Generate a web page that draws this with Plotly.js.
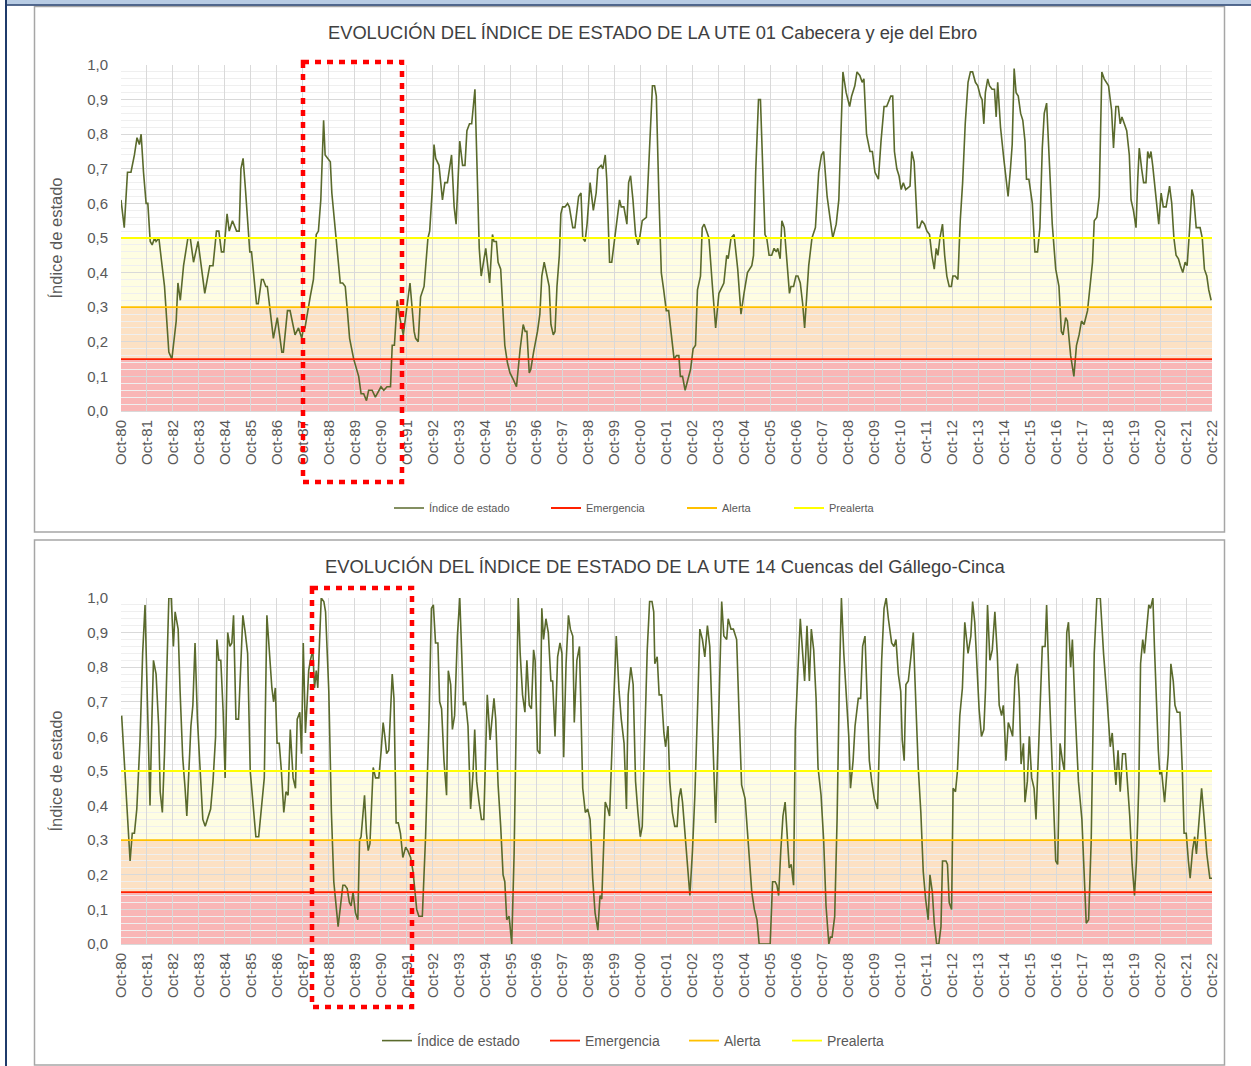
<!DOCTYPE html>
<html>
<head>
<meta charset="utf-8">
<script src="https://cdn.plot.ly/plotly-3.0.1.min.js"></script>
<style>html,body{margin:0;padding:0;background:#fff;}#chart{width:1251px;height:1066px;}</style>
</head>
<body>
<div id="chart"></div>
<script>
// ---------- DATA ----------
// month offset since Oct-1980 and index value
const ute01_month = [0,1.5,3,4.6,6.2,7.4,8.5,9.3,10.4,11.6,12.4,13.5,14.4,15.5,16.2,17.5,18.6,20.1,22.1,23.5,25.5,26.3,27.4,28.9,30.9,32,33.5,35.6,38.7,41,42.5,44.1,45.2,46.4,47.5,49,50,51.5,53.4,54.6,55.4,56.4,57.5,59.5,60.3,62.6,63.4,64.9,65.7,66.9,67.6,70.4,72.2,74.3,75,76.9,78.1,80.4,82,83.5,84.3,85,87.4,88.9,90.2,91.2,92.3,93.6,94.3,95.4,96.7,97.4,99,101.3,102.4,103.6,104.7,105.6,107.5,109.8,110.9,112.1,113.4,114.4,116,117.5,120.1,121.4,122.9,124.5,125.3,126.3,127.6,128.8,130.4,132,133.5,135.4,136.1,137.3,138.4,140,141.8,142.6,143.8,144.6,145.4,146.9,148.5,149.6,150.8,152.7,153.9,154.8,156.5,157.8,158.9,159.8,161,162,163.5,165.5,
166.4,168.5,170.3,171.6,172.3,173.4,174.2,175.4,176.2,177.3,178.5,179.7,181.3,182.7,184.4,185.8,186.7,187.5,188.6,189.3,190.6,192.4,193.5,194.4,195.5,196.8,197.8,198.6,199.7,200.5,201.4,202.5,203.2,204,205.1,206.3,207.1,208.7,209.7,211.4,212.5,213.3,214.4,215.3,216.7,218.2,219.5,220.3,221.8,222.6,223.7,224.4,225.7,226.7,228.4,230.3,231.1,232.3,233.7,234.5,235.4,236.5,237.7,238.8,239.6,240.8,242.7,244.2,245.5,246.5,247.3,248.4,249.6,250.7,251.9,253,254.6,255.5,256.6,257.7,258.4,259.4,260.6,262,263.1,264.3,265.4,266.3,267.7,268.5,269.4,270.5,271.6,273.1,274.7,276.2,277.5,278.5,279.8,280.5,281.8,283.2,284.9,286.4,287.8,289.4,291.4,292.2,293.2,294.5,295.4,297.5,298.3,299.4,300.6,301.7,302.7,303.4,304.5,305.3,306.4,307.6,308.8,309.5,310.7,311.8,312.7,313.8,314.9,315.8,316.6,317.7,319.2,320.8,322.3,323.6,324.6,326.2,327.7,328.8,330.4,331.6,333.5,335,336.6,337.5,
339,340,341.3,342.4,343.2,344.4,346,347.1,348.3,349.9,351.1,352.5,353.7,355.6,356.5,357.3,358.4,359.4,360.4,361.4,362.5,364.5,365.3,366.4,367.9,368.9,370,371.2,372.3,373.5,374.6,375.7,376.6,377.4,378.3,379.5,380.5,381.5,382.6,383.6,384.3,385.4,386.6,387.7,388.8,390,391.3,392.4,393.4,394.7,395.8,397,397.8,398.6,399.3,400.4,401.2,402.4,403.5,404.3,405,406.3,407.8,408.9,409.8,410.9,411.7,412.6,413.5,414.5,415.6,416.6,417.6,418.3,419.4,421,422.2,423.4,424.5,425.6,426.5,427.6,429,430.2,431.8,433.3,434.4,435.2,436.4,437.2,438.7,440.2,441.4,442.6,443.7,444.9,446.5,447.6,448.8,449.6,450.8,451.9,453.1,454.2,456.2,457.6,458.5,459.6,460.7,461.6,462.4,463.5,464.6,465.8,466.6,467.7,468.9,469.7,470.4,471.5,472.4,473.5,474.3,475.1,475.8,476.6,478.1,479.4,480.5,481.5,482.8,484.4,485.4,486.4,487.4,488.5,489.4,490.5,491.6,492.5,493.6,494.7,495.5,496.7,497.8,498.5,499.5,500.5,501.6,502.5,503.6];
const ute01_index = [0.61,0.53,0.69,0.69,0.74,0.79,0.77,0.80,0.69,0.60,0.60,0.49,0.48,0.50,0.49,0.50,0.44,0.36,0.17,0.15,0.26,0.37,0.32,0.42,0.50,0.50,0.43,0.49,0.34,0.42,0.42,0.52,0.52,0.46,0.46,0.57,0.52,0.55,0.52,0.52,0.70,0.73,0.64,0.46,0.46,0.31,0.31,0.38,0.38,0.36,0.36,0.21,0.27,0.17,0.17,0.29,0.29,0.22,0.24,0.21,0.24,0.24,0.33,0.38,0.51,0.52,0.61,0.84,0.74,0.73,0.72,0.63,0.52,0.37,0.37,0.36,0.28,0.21,0.15,0.10,0.05,0.05,0.03,0.06,0.06,0.04,0.07,0.06,0.07,0.07,0.19,0.19,0.32,0.27,0.22,0.30,0.37,0.23,0.21,0.20,0.33,0.36,0.50,0.52,0.64,0.77,0.73,0.71,0.61,0.66,0.66,0.74,0.59,0.54,0.78,0.71,0.71,0.81,0.83,0.83,0.93,0.47,
0.39,0.47,0.37,0.51,0.49,0.49,0.43,0.41,0.30,0.19,0.14,0.11,0.09,0.07,0.18,0.25,0.23,0.23,0.11,0.12,0.17,0.23,0.28,0.39,0.43,0.39,0.36,0.25,0.22,0.23,0.36,0.45,0.57,0.59,0.59,0.60,0.59,0.53,0.53,0.62,0.63,0.50,0.49,0.54,0.66,0.58,0.63,0.70,0.71,0.70,0.74,0.67,0.43,0.43,0.51,0.61,0.59,0.59,0.54,0.66,0.68,0.61,0.51,0.48,0.50,0.55,0.56,0.79,0.94,0.94,0.91,0.64,0.40,0.35,0.29,0.29,0.19,0.15,0.16,0.16,0.10,0.10,0.06,0.09,0.12,0.18,0.19,0.35,0.39,0.53,0.54,0.52,0.50,0.37,0.24,0.34,0.36,0.37,0.45,0.44,0.50,0.51,0.41,0.28,0.34,0.40,0.42,0.45,0.69,0.90,0.90,0.51,0.50,0.45,0.45,0.47,0.46,0.47,0.44,0.55,0.53,0.44,0.34,0.36,0.36,0.39,0.39,0.37,0.31,0.24,0.33,0.42,0.50,0.53,0.69,0.74,0.75,0.62,0.55,0.50,0.54,0.61,0.98,0.92,0.88,0.91,
0.94,0.98,0.97,0.95,0.96,0.80,0.75,0.75,0.69,0.67,0.78,0.88,0.88,0.91,0.91,0.75,0.70,0.68,0.64,0.66,0.64,0.65,0.75,0.72,0.53,0.53,0.55,0.54,0.52,0.51,0.45,0.41,0.47,0.45,0.50,0.54,0.45,0.39,0.36,0.36,0.39,0.39,0.38,0.55,0.66,0.83,0.95,0.98,0.98,0.95,0.94,0.91,0.90,0.83,0.92,0.96,0.94,0.93,0.93,0.85,0.95,0.82,0.73,0.66,0.62,0.70,0.77,0.99,0.92,0.91,0.86,0.84,0.78,0.67,0.67,0.60,0.46,0.46,0.53,0.76,0.86,0.89,0.70,0.54,0.41,0.36,0.23,0.22,0.27,0.26,0.16,0.10,0.19,0.22,0.26,0.25,0.29,0.36,0.43,0.55,0.56,0.62,0.98,0.96,0.94,0.87,0.76,0.88,0.88,0.83,0.85,0.83,0.81,0.74,0.61,0.58,0.53,0.67,0.76,0.70,0.66,0.66,0.75,0.73,0.75,0.71,0.61,0.54,0.63,0.59,0.59,0.65,0.60,0.50,0.45,0.44,0.42,0.40,0.43,0.42,0.52,0.64,0.62,0.53,0.53,0.53,0.50,0.41,0.39,0.35,0.32];

const ute14_month = [0.3,1.9,2.9,4.2,5.2,6.2,7.3,8.8,10,11.1,12.2,13.4,14.2,15,16.2,17.4,18.1,19.1,20.1,21.1,22.1,23.2,24.2,25,26.4,27.3,28.5,29.6,30.4,31.5,32.3,33.2,34.2,35.3,36.6,37.8,38.9,41.4,42.5,43.7,44.3,45.2,46.1,47.2,48.1,49.3,50.3,51.2,52,53.1,54.3,55.4,56.3,57.4,58.5,59.7,61,62.3,63.6,65.1,66.2,67.4,68.7,69.7,70.5,71.3,72.1,73.1,74.1,75.2,76.2,77.2,78.2,79,79.5,80.6,81.4,82.6,83.4,84.2,85.2,86,86.7,87.5,88.6,89.4,90.2,90.9,91.7,92.5,93.7,94.5,96,97.2,98.3,99.4,100.3,101.4,102.5,103.4,104.5,105.5,106.3,107.2,108.3,109.4,110.2,110.9,112.5,113.4,114.2,115,116.5,117.6,119.1,120.2,121.1,121.9,122.7,123.7,125.3,126.1,127.1,128.1,129.1,130.2,131.5,132.5,133.8,134.9,135.8,136.6,137.6,139.2,140.7,142.3,143.4,144.3,145.3,146.4,147.2,148.1,149.2,150.4,151.2,152.3,153.1,154.1,155.4,156.5,157.4,158.2,159.2,160.3,161.5,162.6,163.4,164.3,165.4,
166.5,167.6,168.5,169.2,170.5,171.6,172.3,173.1,174.2,175.4,176.5,177.3,178.2,179.3,180.5,181.6,182.7,183.5,184.4,185.5,186.6,187.5,188.6,189.6,190.6,191.3,192.4,193.5,194.4,195.2,196.3,197.4,198.6,199.4,200.5,201.7,202.8,203.7,204.5,205.6,206.7,207.6,208.7,209.4,210.6,211.8,213.3,214.5,215.6,216.7,217.9,219,220.3,221.3,222.1,223.7,224.9,225.7,227.3,228.8,230.1,231.1,232.4,233.5,234.3,235.5,236.6,237.7,238.8,239.9,240.8,241.9,243.1,244.2,245.3,246.1,246.6,247.7,248.6,249.7,250.8,251.6,252.7,253.5,254.7,255.8,256.9,257.7,258.6,259.4,260.5,261.7,262.8,264,265.1,266.3,267.4,268.6,269.7,270.9,272,273.3,274.7,275.9,277.5,278.5,279.8,280.5,281.8,282.9,284.4,285.5,286.7,288.3,289.8,291.4,292.6,293.8,294.8,296.8,299.9,301,302.2,303,303.8,304.8,305.8,306.8,307.6,308.7,309.6,310.7,311.5,312.7,313.8,314.9,315.8,316.9,318,318.9,320,321.1,322,323.4,324.6,325.7,327,327.7,328.5,329.7,330.8,331.9,332.8,333.9,335,336.2,337,
338.2,339.1,340.6,341.7,342.6,343.7,344.5,345.7,346.8,348,349.5,350.6,351.4,352.5,353.5,354.5,356,357.1,358,359.1,360.2,360.9,361.8,362.6,363.7,364.9,366,366.8,368.3,369.5,370.6,371.7,372.9,373.7,374.8,375.7,376.8,377.8,378.8,379.5,381.1,381.8,382.6,383.7,384.4,385.5,386.4,387.5,388.7,389.8,391.3,392.6,393.4,394.4,395.5,396.4,397.5,398.6,399.4,400.3,401.4,402.5,403.7,404.8,405.7,406.8,407.6,408,408.8,409.9,411,411.9,413,414.1,415,415.8,416.9,417.6,418.7,419.6,420.7,421.8,422.7,423.8,424.9,425.6,426.9,427.6,428.7,429.9,431,431.8,432.7,433.8,434.9,435.8,436.9,437.7,438.7,439.5,440.8,442.3,443.9,445,445.9,447,448.2,449.6,450.8,452.4,453.9,455.5,456.6,457,457.9,458.9,459.6,460.6,461.6,462.7,464,465,466,467.1,468.2,469.1,470.2,471,472,472.8,473.7,474.8,475.6,476.7,477.4,478.4,479.2,479.9,480.7,482.1,483,483.8,485,486.1,486.9,487.9,489.2,490.3,491.1,492.1,493.1,493.9,495,496,496.8,498.1,499.2,500.4,501.6,503,504];
const ute14_index = [0.66,0.49,0.38,0.24,0.32,0.32,0.39,0.59,0.84,0.98,0.70,0.40,0.63,0.82,0.78,0.63,0.44,0.38,0.55,0.77,1.00,1.00,0.86,0.96,0.91,0.73,0.54,0.45,0.37,0.52,0.63,0.69,0.87,0.65,0.49,0.36,0.34,0.39,0.47,0.60,0.88,0.82,0.82,0.67,0.48,0.90,0.86,0.87,0.95,0.65,0.65,0.81,0.95,0.90,0.84,0.50,0.40,0.31,0.31,0.41,0.48,0.95,0.82,0.74,0.70,0.74,0.58,0.58,0.50,0.38,0.44,0.43,0.62,0.55,0.48,0.45,0.65,0.67,0.55,0.87,0.61,0.70,0.79,0.82,0.85,0.74,0.79,0.74,0.88,1.00,0.99,0.96,0.73,0.38,0.18,0.10,0.05,0.11,0.17,0.17,0.16,0.12,0.11,0.15,0.09,0.07,0.30,0.31,0.43,0.32,0.27,0.29,0.51,0.48,0.48,0.56,0.64,0.60,0.55,0.56,0.78,0.71,0.35,0.35,0.32,0.25,0.28,0.27,0.25,0.21,0.15,0.10,0.08,0.08,0.31,0.65,0.97,0.98,0.87,0.87,0.70,0.68,0.53,0.43,0.79,0.75,0.62,0.66,0.89,1.00,0.84,0.69,0.70,0.63,0.39,0.49,0.62,0.47,0.41,
0.36,0.36,0.61,0.72,0.59,0.67,0.71,0.65,0.46,0.34,0.20,0.18,0.07,0.08,0.00,0.26,0.69,1.00,0.84,0.72,0.67,0.82,0.69,0.68,0.85,0.82,0.56,0.55,0.97,0.88,0.94,0.90,0.76,0.76,0.60,0.83,0.87,0.84,0.54,0.81,0.95,0.91,0.89,0.64,0.82,0.86,0.45,0.38,0.39,0.36,0.19,0.09,0.04,0.14,0.13,0.41,0.39,0.37,0.65,0.89,0.73,0.65,0.58,0.39,0.72,0.80,0.75,0.47,0.38,0.31,0.34,0.58,0.85,0.99,0.99,0.96,0.81,0.83,0.72,0.72,0.61,0.57,0.63,0.47,0.38,0.34,0.34,0.42,0.45,0.41,0.33,0.22,0.14,0.27,0.43,0.67,0.91,0.88,0.83,0.92,0.86,0.61,0.35,0.61,0.99,0.89,0.88,0.94,0.91,0.91,0.88,0.67,0.46,0.42,0.30,0.15,0.10,0.07,0.00,0.00,0.00,0.18,0.18,0.17,0.14,0.27,0.37,0.41,0.33,0.22,0.23,0.17,0.62,0.78,0.94,0.84,0.76,0.92,0.76,0.91,0.85,0.71,0.51,0.43,0.30,0.11,0.00,0.02,0.02,0.08,0.36,0.77,1.00,0.84,0.71,0.60,0.45,
0.53,0.63,0.71,0.71,0.86,0.89,0.72,0.53,0.47,0.42,0.39,0.62,0.82,0.97,1.00,0.94,0.87,0.86,0.88,0.78,0.73,0.59,0.53,0.75,0.76,0.83,0.90,0.76,0.51,0.38,0.21,0.13,0.07,0.20,0.15,0.06,0.00,0.00,0.05,0.24,0.24,0.23,0.12,0.10,0.45,0.44,0.50,0.66,0.74,0.93,0.84,0.89,0.99,0.93,0.80,0.68,0.60,0.62,0.74,0.98,0.82,0.85,0.96,0.84,0.69,0.66,0.69,0.65,0.53,0.64,0.62,0.60,0.77,0.81,0.71,0.52,0.58,0.41,0.47,0.60,0.48,0.45,0.36,0.57,0.74,0.86,0.86,0.98,0.76,0.56,0.40,0.24,0.23,0.58,0.53,0.50,0.90,0.93,0.80,0.88,0.67,0.47,0.36,0.19,0.06,0.07,0.30,0.84,1.00,1.00,0.84,0.71,0.61,0.57,0.61,0.51,0.46,0.56,0.44,0.55,0.55,0.46,0.37,0.23,0.14,0.24,0.46,0.81,0.88,0.84,0.91,0.98,0.97,1.00,0.86,0.66,0.56,0.49,0.50,0.41,0.48,0.55,0.81,0.76,0.69,0.67,0.67,0.50,0.32,0.32,0.24,0.19,0.27,0.31,0.26,0.36,0.45,0.36,0.26,0.19,0.19];

// tick labels (hydrological years, every 12 months from Oct-1980)
const yearLabels = ["Oct-80","Oct-81","Oct-82","Oct-83","Oct-84","Oct-85","Oct-86","Oct-87","Oct-88","Oct-89","Oct-90","Oct-91","Oct-92","Oct-93","Oct-94","Oct-95","Oct-96","Oct-97","Oct-98","Oct-99","Oct-00","Oct-01","Oct-02","Oct-03","Oct-04","Oct-05","Oct-06","Oct-07","Oct-08","Oct-09","Oct-10","Oct-11","Oct-12","Oct-13","Oct-14","Oct-15","Oct-16","Oct-17","Oct-18","Oct-19","Oct-20","Oct-21","Oct-22"];
const thresholdNames = ["Emergencia","Alerta","Prealerta"];
const thresholdValues = [0.15, 0.30, 0.50];
const seriesName = "Índice de estado";
const titles = ["EVOLUCIÓN DEL ÍNDICE DE ESTADO DE LA UTE 01 Cabecera y eje del Ebro",
                "EVOLUCIÓN DEL ÍNDICE DE ESTADO DE LA UTE 14 Cuencas del Gállego-Cinca"];

// ---------- STYLE ----------
const W = 1251, H = 1066;
const px = x => x / W;
const py = y => 1 - y / H;
const FONT = "Liberation Sans, Arial, sans-serif";
const TXT = "#595959";
const thresholdColors = ["#FF2000", "#FFC000", "#FFFF00"];
const bandColors = ["#F9B6B6", "#FCE1C4", "#FEFDE2"];
const lineColor = "#5A6A2C";

const tickvals = yearLabels.map((_, i) => i * 12);
const xMax = tickvals[tickvals.length - 1];

// legend entry positions (left end of line sample, px) and vertical centre for each panel
const legendPos = [
  {starts: [395, 552, 688, 795], y: 508, size: 11},
  {starts: [383, 551, 690, 793], y: 1041, size: 14}
];

const traces = [];
const panels = [
  {month: ute01_month, idx: ute01_index, xa: "x", ya: "y"},
  {month: ute14_month, idx: ute14_index, xa: "x2", ya: "y2"}
];
const legendLayouts = {};
let legendCounter = 0;
function nextLegend(panelIdx, itemIdx) {
  legendCounter++;
  const key = legendCounter === 1 ? "legend" : "legend" + legendCounter;
  const lp = legendPos[panelIdx];
  legendLayouts[key] = {orientation: "h", x: px(lp.starts[itemIdx] - 6), y: py(lp.y), xanchor: "left", yanchor: "middle",
    bgcolor: "rgba(0,0,0,0)", borderwidth: 0, font: {family: FONT, size: lp.size, color: TXT},
    itemclick: false, itemdoubleclick: false};
  return key;
}
panels.forEach((p, k) => {
  traces.push({type: "scatter", mode: "lines", x: p.month, y: p.idx, xaxis: p.xa, yaxis: p.ya,
    name: seriesName, legend: nextLegend(k, 0), line: {color: lineColor, width: 1.6}, hoverinfo: "x+y"});
  thresholdNames.forEach((nm, i) => {
    traces.push({type: "scatter", mode: "lines", x: [0, xMax], y: [thresholdValues[i], thresholdValues[i]],
      xaxis: p.xa, yaxis: p.ya, name: nm, legend: nextLegend(k, i + 1),
      line: {color: thresholdColors[i], width: 1.8}, hoverinfo: "skip"});
  });
});

const shapes = [];
// coloured bands
["x", "x2"].forEach((xa, k) => {
  const ya = k === 0 ? "y" : "y2";
  const bounds = [0].concat(thresholdValues);
  for (let i = 0; i < 3; i++) {
    shapes.push({type: "rect", xref: xa, yref: ya, x0: 0, x1: xMax, y0: bounds[i], y1: bounds[i + 1],
      fillcolor: bandColors[i], line: {width: 0}, layer: "below"});
  }
});
// panel frames
shapes.push({type: "rect", xref: "paper", yref: "paper", x0: px(34.5), x1: px(1224.5), y0: py(6.5), y1: py(532), line: {color: "#A6A6A6", width: 1.5}, fillcolor: "rgba(0,0,0,0)"});
shapes.push({type: "rect", xref: "paper", yref: "paper", x0: px(34.5), x1: px(1224.5), y0: py(540), y1: py(1065), line: {color: "#A6A6A6", width: 1.5}, fillcolor: "rgba(0,0,0,0)"});
// page decoration (top band & left rule)
shapes.push({type: "rect", xref: "paper", yref: "paper", x0: px(5), x1: px(1251), y0: py(0), y1: py(4.5), fillcolor: "#B8CCE4", line: {width: 0}});
shapes.push({type: "line", xref: "paper", yref: "paper", x0: px(5), x1: px(1251), y0: py(5), y1: py(5), line: {color: "#1F3B6B", width: 1.5}});
shapes.push({type: "line", xref: "paper", yref: "paper", x0: px(6), x1: px(6), y0: py(0), y1: py(1066), line: {color: "#1F3B6B", width: 2}});
// highlighted period boxes
shapes.push({type: "rect", xref: "paper", yref: "paper", x0: px(303), x1: px(402), y0: py(62), y1: py(482), line: {color: "#FF0000", width: 4.5, dash: "6px,6px"}, fillcolor: "rgba(0,0,0,0)"});
shapes.push({type: "rect", xref: "paper", yref: "paper", x0: px(312), x1: px(412), y0: py(588), y1: py(1007), line: {color: "#FF0000", width: 4.5, dash: "6px,6px"}, fillcolor: "rgba(0,0,0,0)"});

function xAxis(anchor) {
  return {domain: [px(121), px(1212)], range: [0, xMax], anchor: anchor, tickmode: "array",
    tickvals: tickvals, ticktext: yearLabels, tickangle: -90, tickfont: {family: FONT, size: 15, color: TXT},
    showgrid: true, gridcolor: "#D9D9D9", gridwidth: 1, zeroline: false, showline: true, linecolor: "#D9D9D9",
    ticks: "", ticklabelstandoff: 2, automargin: false, fixedrange: true};
}
function yAxis(anchor, d0, d1) {
  return {domain: [d0, d1], range: [0, 1], anchor: anchor, dtick: 0.1, tick0: 0, tickformat: ".1f",
    tickfont: {family: FONT, size: 15, color: TXT}, showgrid: true, gridcolor: "#D9D9D9", gridwidth: 1,
    minor: {dtick: 0.02, showgrid: true, gridcolor: "#EFEFEF", gridwidth: 1},
    zeroline: false, showline: false, ticks: "", ticklabelstandoff: 12, automargin: false, fixedrange: true,
    title: {text: seriesName, font: {family: FONT, size: 16.5, color: TXT}, standoff: 20}};
}

const layout = Object.assign({
  width: W, height: H, margin: {l: 0, r: 0, t: 0, b: 0, pad: 0},
  paper_bgcolor: "#FFFFFF", plot_bgcolor: "#FFFFFF", separators: ", ",
  font: {family: FONT, color: TXT},
  xaxis: xAxis("y"), yaxis: yAxis("x", py(411), py(65)),
  xaxis2: xAxis("y2"), yaxis2: yAxis("x2", py(944), py(598)),
  shapes: shapes,
  annotations: [
    {text: titles[0], xref: "paper", yref: "paper", x: px(652), y: py(33), xanchor: "center", yanchor: "middle", showarrow: false, font: {family: FONT, size: 18.3, color: "#404040"}},
    {text: titles[1], xref: "paper", yref: "paper", x: px(665), y: py(566), xanchor: "center", yanchor: "middle", showarrow: false, font: {family: FONT, size: 18.4, color: "#404040"}}
  ],
  showlegend: true, hovermode: "closest"
}, legendLayouts);

Plotly.newPlot("chart", traces, layout, {displayModeBar: false, responsive: false});
</script>
</body>
</html>
